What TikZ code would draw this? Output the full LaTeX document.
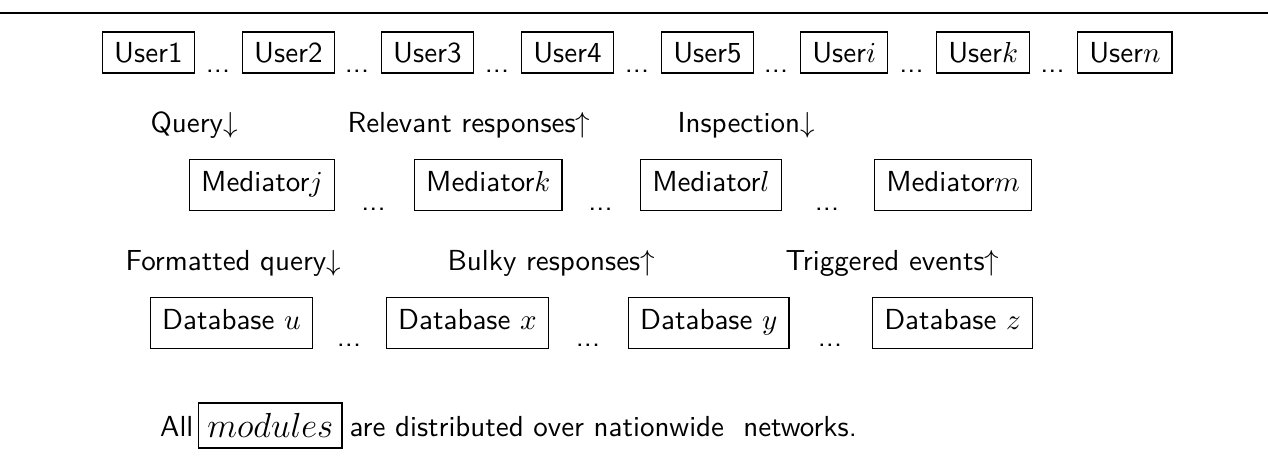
\documentclass[tikz,border=0pt]{standalone}
\usepackage{amsmath, amssymb}
\usepackage{tikz}

\tikzset{
  userbox/.style={draw, line width=0.45pt, font=\sffamily, inner xsep=4pt, inner ysep=3.6pt, text height=7pt, text depth=0pt, anchor=west},
  modbox/.style={draw, line width=0.45pt, font=\sffamily, inner xsep=4pt, inner ysep=4.3pt, text height=7pt, text depth=2.2pt, anchor=west},
  gapdots/.style={font=\sffamily, inner sep=0pt, anchor=base},
  flowlabel/.style={font=\sffamily, inner sep=0pt, anchor=base west},
}

\begin{document}
\begin{tikzpicture}[x=0.345pt,y=0.345pt,yscale=-1,xscale=1]
\useasboundingbox (0,0) rectangle (1268,458);

%Straight Lines
\draw [line width=0.7pt] (0,13) -- (1268,13) ;

%Shape: Rectangle (users)
\node (user1) [userbox] at (102,52.5) {User1};
\node (user2) [userbox] at (242,52.5) {User2};
\node (user3) [userbox] at (381,52.5) {User3};
\node (user4) [userbox] at (521,52.5) {User4};
\node (user5) [userbox] at (661,52.5) {User5};
\node (useri) [userbox] at (800,52.5) {User$i$};
\node (userk) [userbox] at (936,52.5) {User$k$};
\node (usern) [userbox] at (1077,52.5) {User$n$};
% Text Node
\node (ud1) [gapdots] at (218,72) {...};
\node (ud2) [gapdots] at (357,72) {...};
\node (ud3) [gapdots] at (497,72) {...};
\node (ud4) [gapdots] at (637,72) {...};
\node (ud5) [gapdots] at (776,72) {...};
\node (ud6) [gapdots] at (911.5,72) {...};
\node (ud7) [gapdots] at (1052.5,72) {...};

% Text Node
\node (query) [flowlabel] at (150,133) {Query$\downarrow$};
\node (relevant) [flowlabel] at (347,133) {Relevant responses$\uparrow$};
\node (inspection) [flowlabel] at (677,133) {Inspection$\downarrow$};

%Shape: Rectangle (mediators)
\node (medj) [modbox] at (189,185) {Mediator$j$};
\node (medk) [modbox] at (414,185) {Mediator$k$};
\node (medl) [modbox] at (640,185) {Mediator$l$};
\node (medm) [modbox] at (874,185) {Mediator$m$};
% Text Node
\node (md1) [gapdots] at (373.5,210) {...};
\node (md2) [gapdots] at (600.5,210) {...};
\node (md3) [gapdots] at (827,210) {...};

% Text Node
\node (formatted) [flowlabel] at (125,270) {Formatted query$\downarrow$};
\node (bulky) [flowlabel] at (447,270) {Bulky responses$\uparrow$};
\node (triggered) [flowlabel] at (785,270) {Triggered events$\uparrow$};

%Shape: Rectangle (databases)
\node (dbu) [modbox] at (150,323) {Database $u$};
\node (dbx) [modbox] at (386,323) {Database $x$};
\node (dby) [modbox] at (628,323) {Database $y$};
\node (dbz) [modbox] at (872,323) {Database $z$};
% Text Node
\node (dd1) [gapdots] at (349,346) {...};
\node (dd2) [gapdots] at (588,346) {...};
\node (dd3) [gapdots] at (830,346) {...};

% Text Node
\node (all) [flowlabel, anchor=base east] at (194,436) {All};
\node (modules) [draw, line width=0.45pt, inner xsep=3pt, inner ysep=3.6pt, anchor=west] at (198,425.5) {\large $modules$};
\node (rest) [flowlabel] at (349,436) {are distributed over nationwide\ \ networks.};

\end{tikzpicture}
\end{document}
